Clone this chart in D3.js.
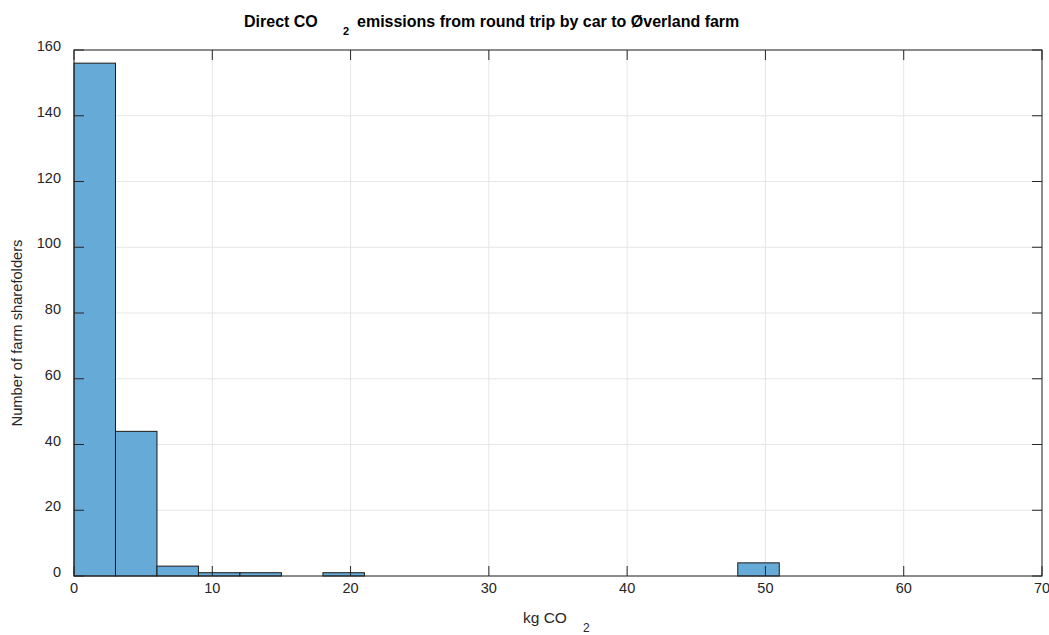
<!DOCTYPE html>
<html><head><meta charset="utf-8">
<script src="https://cdn.jsdelivr.net/npm/d3@7"></script>
<style>body{margin:0;background:#fff}text{font-family:"Liberation Sans",Arial,sans-serif}</style>
</head><body><svg id="c" width="1049" height="635"></svg>
<script>
const binEdges = [0,3,6,9,12,15,18,21,24,27,30,33,36,39,42,45,48,51,54,57,60,63,66,69];
const counts = [156,44,3,1,1,0,1,0,0,0,0,0,0,0,0,0,4,0,0,0,0,0,0];
const xTicks = [0,10,20,30,40,50,60,70];
const yTicks = [0,20,40,60,80,100,120,140,160];

const svg = d3.select("#c");
const L=74,R=1042,T=50,B=576;
const x = d3.scaleLinear().domain([0,70]).range([L,R]);
const y = d3.scaleLinear().domain([0,160]).range([B,T]);

// grid
svg.append("g").selectAll("line").data(xTicks).join("line")
  .attr("x1",d=>x(d)).attr("x2",d=>x(d)).attr("y1",T).attr("y2",B)
  .attr("stroke","#e6e6e6").attr("stroke-width",1);
svg.append("g").selectAll("line").data(yTicks).join("line")
  .attr("x1",L).attr("x2",R).attr("y1",d=>y(d)).attr("y2",d=>y(d))
  .attr("stroke","#e6e6e6").attr("stroke-width",1);

// bars
const bins = counts.map((c,i)=>({x0:binEdges[i],x1:binEdges[i+1],c}));
svg.append("g").selectAll("rect").data(bins).join("rect")
  .attr("x",d=>x(d.x0)).attr("width",d=>x(d.x1)-x(d.x0))
  .attr("y",d=>y(d.c)).attr("height",d=>y(0)-y(d.c))
  .attr("fill","rgb(102,170,215)").attr("stroke","#1a1a1a").attr("stroke-width",1);

// axes with inward ticks
const tk=10;
const ax = svg.append("g").attr("stroke","#262626").attr("stroke-width",1).attr("fill","none");
ax.append("rect").attr("x",L).attr("y",T).attr("width",R-L).attr("height",B-T);
xTicks.forEach(d=>{
  ax.append("line").attr("x1",x(d)).attr("x2",x(d)).attr("y1",B).attr("y2",B-tk);
  ax.append("line").attr("x1",x(d)).attr("x2",x(d)).attr("y1",T).attr("y2",T+tk);
});
yTicks.forEach(d=>{
  ax.append("line").attr("x1",L).attr("x2",L+tk).attr("y1",y(d)).attr("y2",y(d));
  ax.append("line").attr("x1",R).attr("x2",R-tk).attr("y1",y(d)).attr("y2",y(d));
});

const fc="#262626";
svg.append("g").selectAll("text").data(xTicks).join("text")
  .attr("x",d=>x(d)).attr("y",B+17).attr("text-anchor","middle")
  .attr("font-size",14.5).attr("fill",fc).text(d=>d);
svg.append("g").selectAll("text").data(yTicks).join("text")
  .attr("x",L-13).attr("y",d=>y(d)+1).attr("text-anchor","end")
  .attr("font-size",14.5).attr("fill",fc).text(d=>d);

// title
const t = svg.append("text").attr("x",244).attr("y",27).attr("font-size",16).attr("font-weight","bold").attr("fill","#000");
t.append("tspan").text("Direct CO");
t.append("tspan").attr("x",343).attr("y",35).attr("font-size",11).text("2");
t.append("tspan").attr("x",357).attr("y",27).text("emissions from round trip by car to Øverland farm");

// x label
const xl = svg.append("text").attr("x",523).attr("y",623).attr("font-size",15.5).attr("fill",fc);
xl.append("tspan").text("kg CO");
xl.append("tspan").attr("x",583).attr("y",632).attr("font-size",12).text("2");

// y label
svg.append("text").attr("transform",`translate(22,333) rotate(-90)`)
  .attr("text-anchor","middle").attr("font-size",14.7).attr("fill",fc).text("Number of farm sharefolders");
</script></body></html>
